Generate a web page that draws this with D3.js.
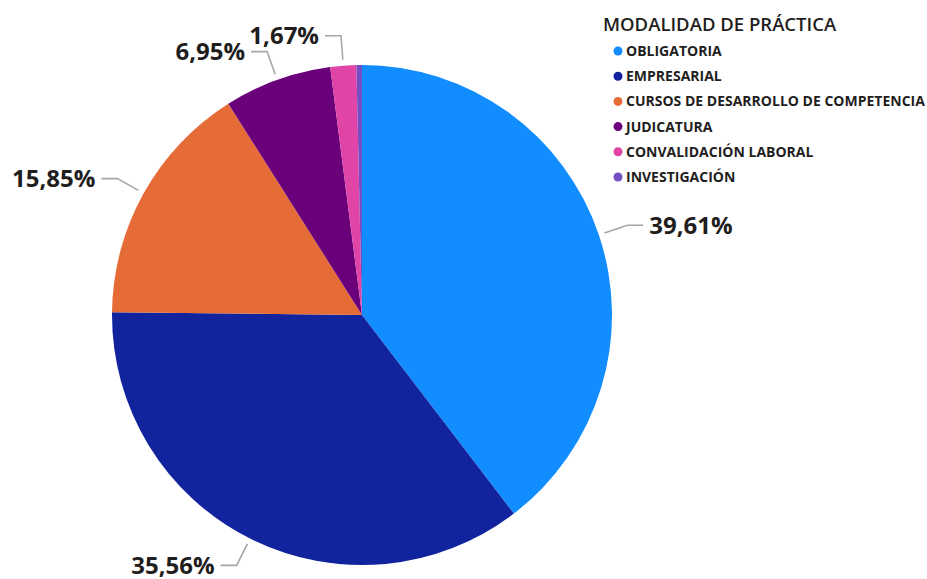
<!DOCTYPE html>
<html>
<head>
<meta charset="utf-8">
<script src="https://cdn.jsdelivr.net/npm/d3@7"></script>
<style>
  body { margin: 0; background: #fff; }
  #div_pie { width: 927px; height: 579px; }
  text { font-family: "Open Sans", "Noto Sans", sans-serif; fill: #1f1e1d; }
</style>
</head>
<body>
<div id="div_pie"></div>
<script>
// data
var categories = ["OBLIGATORIA", "EMPRESARIAL", "CURSOS DE DESARROLLO DE COMPETENCIA",
    "JUDICATURA", "CONVALIDACIÓN LABORAL", "INVESTIGACIÓN"];
var shares = [39.61, 35.56, 15.85, 6.95, 1.67, 0.36];
var colors = ["#118DFF", "#12239E", "#E66C37", "#6B007B", "#E044A7", "#744EC2"];
var legendTitle = "MODALIDAD DE PRÁCTICA";

function renderPie(render_id) {
    document.getElementById(render_id).innerHTML = "";

    var div_width = document.querySelector("#" + render_id).offsetWidth;
    var div_height = document.querySelector("#" + render_id).offsetHeight;

    var svg = d3.select("#" + render_id)
        .append("svg")
        .attr("width", div_width)
        .attr("height", div_height);

    var radius = 250,
        cx = 362,
        cy = 315;

    var data = categories.map(function (c, i) {
        return { key: c, value: shares[i] };
    });

    var color = d3.scaleOrdinal().domain(categories).range(colors);

    var pie = d3.pie().sort(null).value(function (d) { return d.value; });
    var arc = d3.arc().innerRadius(0).outerRadius(radius);
    var lineStart = d3.arc().innerRadius(radius + 6).outerRadius(radius + 6);
    var lineElbow = d3.arc().innerRadius(radius + 30).outerRadius(radius + 30);

    var g = svg.append("g")
        .attr("transform", "translate(" + cx + "," + cy + ")");

    var arcs = pie(data);

    g.selectAll(".slice")
        .data(arcs)
        .enter().append("path")
        .attr("class", "slice")
        .attr("d", arc)
        .style("fill", function (d) { return color(d.data.key); });

    // labels: small slices have no room (as in the original)
    var labelled = arcs.filter(function (d) { return d.data.value >= 1; });

    var fmt = function (v) { return d3.format(".2f")(v).replace(".", ",") + "%"; };

    var label = g.selectAll(".label")
        .data(labelled)
        .enter().append("g")
        .attr("class", "label");

    label.append("polyline")
        .style("fill", "none")
        .style("stroke", "#A6A6A6")
        .style("stroke-width", 1.6)
        .attr("points", function (d) {
            var mid = (d.startAngle + d.endAngle) / 2;
            var a = lineStart.centroid(d), b = lineElbow.centroid(d);
            var side = mid < Math.PI ? 1 : -1;
            return [a, b, [b[0] + side * 16, b[1]]].join(" ");
        });

    label.append("text")
        .attr("transform", function (d) {
            var mid = (d.startAngle + d.endAngle) / 2;
            var b = lineElbow.centroid(d);
            var side = mid < Math.PI ? 1 : -1;
            return "translate(" + (b[0] + side * 22) + "," + b[1] + ")";
        })
        .attr("dy", "0.36em")
        .style("text-anchor", function (d) {
            return (d.startAngle + d.endAngle) / 2 < Math.PI ? "start" : "end";
        })
        .style("font-size", "24px")
        .style("font-weight", "bold")
        .text(function (d) { return fmt(d.data.value); });

    // legend
    var legend = svg.append("g")
        .attr("transform", "translate(603,0)");

    legend.append("text")
        .attr("x", 0)
        .attr("y", 31)
        .style("font-size", "18.5px")
        .style("font-weight", 600)
        .text(legendTitle);

    var item = legend.selectAll(".item")
        .data(categories)
        .enter().append("g")
        .attr("class", "item")
        .attr("transform", function (d, i) { return "translate(0," + (51 + i * 25.2) + ")"; });

    item.append("circle")
        .attr("cx", 15)
        .attr("cy", 0)
        .attr("r", 4.5)
        .style("fill", function (d) { return color(d); });

    item.append("text")
        .attr("x", 23)
        .attr("dy", "0.36em")
        .style("font-size", "14px")
        .style("font-weight", "bold")
        .text(function (d) { return d; });
}

renderPie("div_pie");
</script>
</body>
</html>
